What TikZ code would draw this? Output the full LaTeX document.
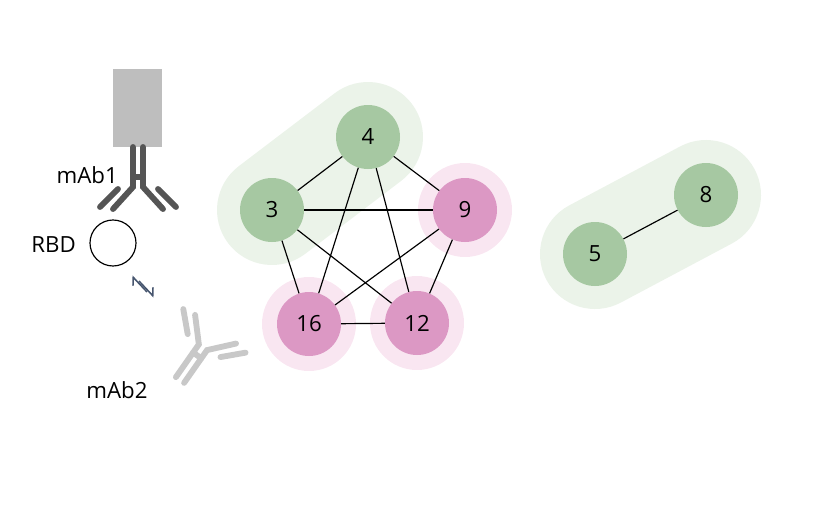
\documentclass[tikz,border=0pt]{standalone}
\usepackage{fontspec}
\setmainfont{Open Sans}
\usetikzlibrary{arrows.meta}
\definecolor{Vgreen}{RGB}{166,200,162}
\definecolor{Vpink}{RGB}{220,152,196}
\definecolor{Blobgreen}{RGB}{235,243,233}
\definecolor{Halopink}{RGB}{249,230,241}
\definecolor{Abdark}{RGB}{85,85,85}
\definecolor{Ablight}{RGB}{200,200,200}
\definecolor{Boxgray}{RGB}{190,190,190}
\definecolor{Arrowblue}{RGB}{70,85,110}

\tikzset{
  antibody/.pic={
    \draw (-5,0) -- (-5,40) -- (-25,62);
    \draw (5,0) -- (5,40) -- (25,62);
    \draw (-5,30) -- (5,30);
    \draw (-20,42) -- (-38,60);
    \draw (20,42) -- (38,60);
  }
}

\begin{document}
\begin{tikzpicture}[x=0.03cm, y=-0.03cm,
  Knoten/.style={circle, minimum size=1.92cm, inner sep=0pt, font=\fontsize{19}{19}\selectfont},
  Gruen/.style={Knoten, fill=Vgreen},
  Rosa/.style={Knoten, fill=Vpink},
  Blob/.style={line width=3.3cm, line cap=round, Blobgreen},
  Label/.style={font=\fontsize{19}{19}\selectfont}]
				\useasboundingbox (0,0) rectangle (834,525);
				% Antikoerper und RBD
				\fill[Boxgray] (113,69) rectangle (162,147);
				\pic[Abdark, line width=5pt, line cap=round] at (138,147) {antibody};
				\node[circle, draw, line width=1pt, minimum size=1.38cm] (rbd) at (113,243) {};
				\node[Label, anchor=east] (lrbd) at (80,245) {RBD};
				\node[Label, anchor=east] (lmab1) at (122,175) {mAb1};
				\pic[Ablight, line width=5pt, line cap=round, rotate=145] at (180,380) {antibody};
				\node[Label] (lmab2) at (117,390) {mAb2};
				\coordinate (p1) at (132,276);
				\coordinate (p2) at (147,292);
				\coordinate (q1) at (139,281);
				\coordinate (q2) at (154,297);
				\draw[Arrowblue, line width=1.3pt, -{Straight Barb[left, length=5pt]}] (p2) -- (p1);
				\draw[Arrowblue, line width=1.3pt, -{Straight Barb[left, length=5pt]}] (q1) -- (q2);
				% Hintergrund
				\draw[Blob] (272,210) -- (368,137);
				\draw[Blob] (595,254) -- (706,195);
				\fill[Halopink] (465,210) circle (47);
				\fill[Halopink] (309,324) circle (47);
				\fill[Halopink] (417,323) circle (47);
				% Graph
				\node[Gruen] (n4) at (368,137) {4};
				\node[Gruen] (n3) at (272,210) {3};
				\node[Rosa] (n9) at (465,210) {9};
				\node[Rosa] (n16) at (309,324) {16};
				\node[Rosa] (n12) at (417,323) {12};
				\node[Gruen] (n5) at (595,254) {5};
				\node[Gruen] (n8) at (706,195) {8};
				\foreach \a/\b in {n4/n3, n4/n9, n4/n16, n4/n12, n3/n9, n3/n16, n3/n12, n9/n16, n9/n12, n16/n12, n5/n8}
					\draw[line width=1pt] (\a) -- (\b);
			\end{tikzpicture}
\end{document}
